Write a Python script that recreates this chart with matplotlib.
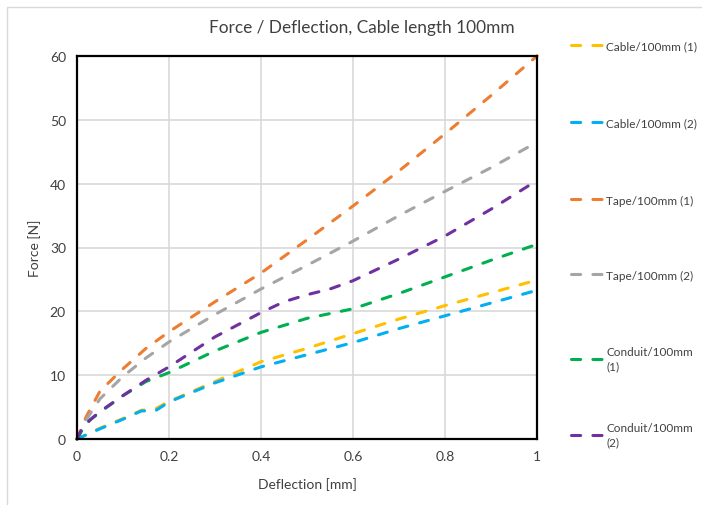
import numpy as np
import matplotlib
import matplotlib.pyplot as plt
from matplotlib.lines import Line2D
from matplotlib.patches import Rectangle

matplotlib.rcParams['font.family'] = ['Lato', 'DejaVu Sans']

# values
x_tape1 = [0, 0.02, 0.05, 0.1, 0.15, 0.2, 0.3, 0.4, 0.5, 0.6, 0.7, 0.8, 0.9, 1.0]
tape1 = [0, 3.5, 7.5, 11, 14.2, 16.8, 21.5, 26, 31.2, 36.5, 42, 47.8, 53.8, 60]

x_tape2 = [0, 0.02, 0.05, 0.1, 0.15, 0.2, 0.3, 0.4, 0.5, 0.6, 0.7, 0.8, 0.9, 1.0]
tape2 = [0, 3, 6.3, 9.8, 12.7, 15.2, 19.5, 23.5, 27.2, 31, 35, 38.8, 42.5, 46.5]

x_cond2 = [0, 0.01, 0.03, 0.05, 0.1, 0.15, 0.2, 0.3, 0.4, 0.45, 0.5, 0.55, 0.6, 0.7, 0.8, 0.9, 1.0]
cond2 = [0, 1.5, 3.1, 4.3, 6.8, 9.2, 11.3, 16, 19.8, 21.5, 22.6, 23.5, 24.8, 28.2, 31.8, 36, 40.5]

x_cond1 = [0, 0.02, 0.05, 0.1, 0.15, 0.2, 0.3, 0.4, 0.5, 0.6, 0.7, 0.8, 0.9, 1.0]
cond1 = [0, 2.5, 4.2, 6.8, 9.0, 10.4, 13.8, 16.7, 18.9, 20.4, 22.8, 25.4, 28, 30.5]

x_cable1 = [0, 0.05, 0.1, 0.14, 0.17, 0.2, 0.3, 0.4, 0.5, 0.6, 0.7, 0.8, 0.9, 1.0]
cable1 = [0, 1.7, 3.2, 4.5, 4.7, 5.9, 9, 12.1, 14.2, 16.5, 18.8, 20.9, 22.9, 24.9]

x_cable2 = [0, 0.05, 0.1, 0.14, 0.17, 0.2, 0.3, 0.4, 0.5, 0.6, 0.7, 0.8, 0.9, 1.0]
cable2 = [0, 1.6, 3.1, 4.4, 4.4, 5.8, 8.8, 11.3, 13.2, 15.1, 17.3, 19.3, 21.3, 23.3]

series = [
    ('Cable/100mm (1)', x_cable1, cable1, '#FFC000'),
    ('Cable/100mm (2)', x_cable2, cable2, '#00B0F0'),
    ('Tape/100mm (1)', x_tape1, tape1, '#ED7D31'),
    ('Tape/100mm (2)', x_tape2, tape2, '#A5A5A5'),
    ('Conduit/100mm\n(1)', x_cond1, cond1, '#00B050'),
    ('Conduit/100mm\n(2)', x_cond2, cond2, '#7030A0'),
]

fig = plt.figure(figsize=(7.02, 5.06), dpi=100)
ax = fig.add_axes([77/702, 1 - 440/506, 460/702, 383/506])

style = dict(lw=2.2, dashes=(3.0, 4.0), dash_capstyle='round')
for label, xs, ys, col in series:
    ax.plot(xs, ys, color=col, label=label, clip_on=False, **style)

ax.set_xlim(0, 1)
ax.set_ylim(0, 60)
ax.set_xticks([0, 0.2, 0.4, 0.6, 0.8, 1])
ax.set_xticklabels(['0', '0.2', '0.4', '0.6', '0.8', '1'])
ax.set_yticks(range(0, 61, 10))
ax.grid(color='#D9D9D9', lw=1.2)
ax.set_axisbelow(True)
ax.tick_params(length=0, labelsize=10, pad=8, colors='#404040')
for s in ax.spines.values():
    s.set_linewidth(1.6)
    s.set_color('black')

ax.set_xlabel('Deflection [mm]', fontsize=10, color='#404040', labelpad=11)
ax.set_ylabel('Force [N]', fontsize=10, color='#404040', labelpad=6)
fig.text(362/702, 1 - 28/506, 'Force / Deflection, Cable length 100mm',
         ha='center', va='center', fontsize=12.4, color='#404040')

# one legend per entry, spaced like the original
leg_y = [47, 124, 201, 276, 360, 436]
for (label, xs, ys, col), yy in zip(series, leg_y):
    h = Line2D([], [], color=col, **style)
    leg = fig.legend([h], [label], loc='center left',
                     bbox_to_anchor=(571/702, 1 - yy/506), frameon=False,
                     fontsize=8.5, handlelength=2.7, handletextpad=0.3,
                     borderpad=0, borderaxespad=0, labelcolor='#404040')
    leg.get_texts()[0].set_linespacing(1.35)

fig.patches.append(Rectangle((7/702, -0.01), 1.0, 1 - 8/506 + 0.01,
                             transform=fig.transFigure, fill=False,
                             edgecolor='#D9D9D9', lw=1))

fig.savefig('out.png', dpi=100)
